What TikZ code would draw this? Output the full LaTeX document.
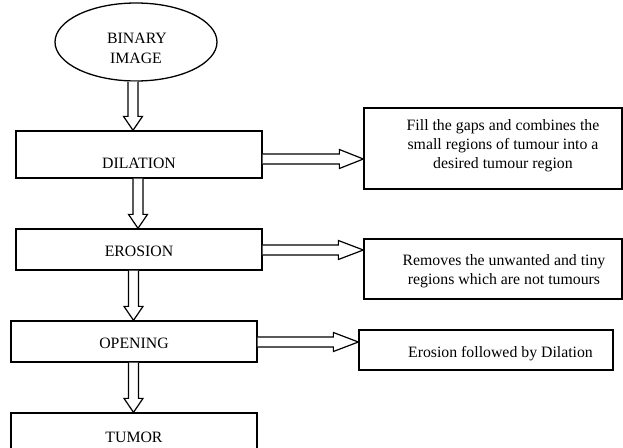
\documentclass[tikz,border=0pt]{standalone}
\usepackage{fontspec}
\setmainfont{Liberation Serif}
\usetikzlibrary{calc,shapes.geometric}

\tikzset{
  frame/.style={draw, line width=1.3pt, inner sep=0pt},
  label/.style={font=\fontsize{15.8}{19}\selectfont, inner sep=0pt, anchor=base},
  arrowline/.style={draw, fill=white, line width=1.2pt, line join=miter}
}

% hollow block arrow pointing down, from node #1 to node #2 at abscissa #3
\newcommand\downblock[3]{%
  \coordinate (vx) at (#3,0);
  \coordinate (vs) at (vx |- #1.south);
  \coordinate (vt) at (vx |- #2.north);
  \draw[arrowline] ($(vs)+(-5,0)$) -- ($(vt)+(-5,-14)$) -- ($(vt)+(-9.5,-14)$)
    -- (vt) -- ($(vt)+(9.5,-14)$) -- ($(vt)+(5,-14)$) -- ($(vs)+(5,0)$);
}
% hollow block arrow pointing right, from node #1 to node #2 at ordinate #3, head length #4
\newcommand\rightblock[4]{%
  \coordinate (hy) at (0,#3);
  \coordinate (hs) at (hy -| #1.east);
  \coordinate (ht) at (hy -| #2.west);
  \draw[arrowline] ($(hs)+(0,-5)$) -- ($(ht)+(-#4,-5)$) -- ($(ht)+(-#4,-9.5)$)
    -- (ht) -- ($(ht)+(-#4,9.5)$) -- ($(ht)+(-#4,5)$) -- ($(hs)+(0,5)$);
}

\begin{document}
\begin{tikzpicture}[x=1pt, y=-1pt]
  \useasboundingbox (0,0) rectangle (623,447);
  \clip (0,0) rectangle (623,447);

  % main column
  \node[frame, ellipse, minimum width=162pt, minimum height=78pt] (img) at (136,42) {};
  \node[label] (imgA) at (137,43) {BINARY};
  \node[label] (imgB) at (136,63) {IMAGE};

  \node[frame, minimum width=246pt, minimum height=47pt] (dil) at (139,154.5) {};
  \node[label] (dilT) at (139,168) {DILATION};

  \node[frame, minimum width=246pt, minimum height=41pt] (ero) at (139,249.5) {};
  \node[label] (eroT) at (139,256) {EROSION};

  \node[frame, minimum width=246pt, minimum height=41pt] (ope) at (134,341.5) {};
  \node[label] (opeT) at (134,348) {OPENING};

  \node[frame, minimum width=246pt, minimum height=50pt] (tum) at (134,438) {};
  \node[label] (tumT) at (134,442) {TUMOR};

  % explanation boxes
  \node[frame, minimum width=258pt, minimum height=81pt] (n1) at (493,148.5) {};
  \node[label] (n1a) at (503,130.5) {Fill the gaps and combines the};
  \node[label] (n1b) at (503,149.5) {small regions of tumour into a};
  \node[label] (n1c) at (503,168.5) {desired tumour region};

  \node[frame, minimum width=258pt, minimum height=60pt] (n2) at (493,269) {};
  \node[label] (n2a) at (504,265) {Removes the unwanted and tiny};
  \node[label] (n2b) at (504,284) {regions which are not tumours};

  \node[frame, minimum width=254pt, minimum height=40pt] (n3) at (486,350) {};
  \node[label] (n3a) at (500.5,357) {Erosion followed by Dilation};

  % flow arrows
  \downblock{img}{dil}{133}
  \downblock{dil}{ero}{138}
  \downblock{ero}{ope}{133.5}
  \downblock{ope}{tum}{133.5}

  \rightblock{dil}{n1}{159}{24}
  \rightblock{ero}{n2}{250}{25}
  \rightblock{ope}{n3}{342}{25}
\end{tikzpicture}
\end{document}
